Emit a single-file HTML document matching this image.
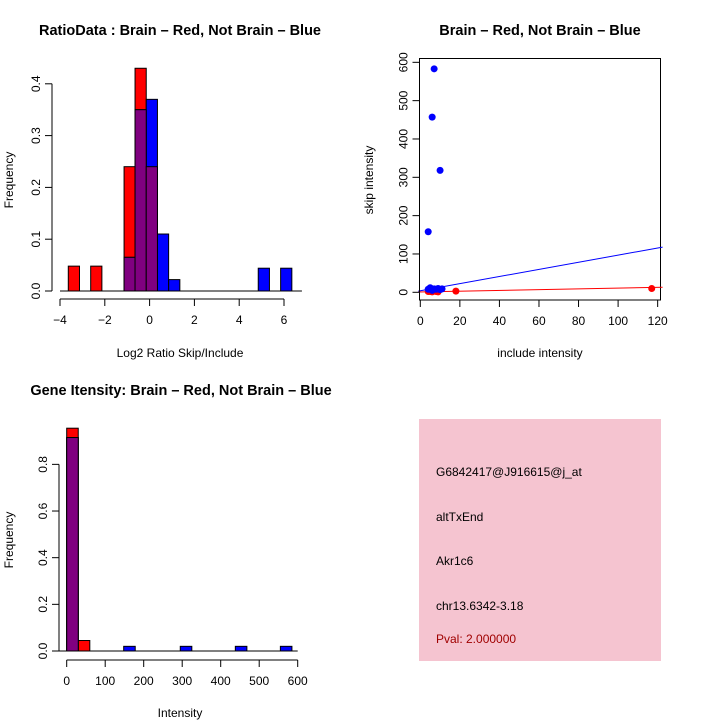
<!DOCTYPE html>
<html><head><meta charset="utf-8"><style>
body{margin:0;background:#fff}
svg{display:block;font-family:"Liberation Sans",sans-serif}
</style></head><body>
<svg id="s" width="720" height="720" xmlns="http://www.w3.org/2000/svg">
<text x="180" y="35" font-size="14.5" font-weight="bold" text-anchor="middle">RatioData : Brain – Red, Not Brain – Blue</text>
<text x="540" y="35" font-size="14.5" font-weight="bold" text-anchor="middle">Brain – Red, Not Brain – Blue</text>
<text x="181" y="395" font-size="14.5" font-weight="bold" text-anchor="middle">Gene Itensity: Brain – Red, Not Brain – Blue</text>
<text x="180" y="357" font-size="12" text-anchor="middle">Log2 Ratio Skip/Include</text>
<text x="13" y="180" font-size="12" text-anchor="middle" transform="rotate(-90 13 180)">Frequency</text>
<text x="540" y="357" font-size="12" text-anchor="middle">include intensity</text>
<text x="373" y="180" font-size="12" text-anchor="middle" transform="rotate(-90 373 180)">skip intensity</text>
<text x="180" y="717" font-size="12" text-anchor="middle">Intensity</text>
<text x="13" y="540" font-size="12" text-anchor="middle" transform="rotate(-90 13 540)">Frequency</text>
<rect x="419" y="419" width="242" height="242" fill="#f5c4d0"/>
<text x="436" y="476" font-size="12">G6842417@J916615@j_at</text>
<text x="436" y="521" font-size="12">altTxEnd</text>
<text x="436" y="565" font-size="12">Akr1c6</text>
<text x="436" y="610" font-size="12">chr13.6342-3.18</text>
<text x="436" y="643" font-size="12" fill="#a00000">Pval: 2.000000</text>
</svg>
<script>
// Ratio histogram data
const ratioRedStarts=[-3.63,-2.63,-1.14,-0.65,-0.15];
const ratioRedVals=[0.048,0.048,0.24,0.43,0.24];
const ratioBlueStarts=[-1.14,-0.65,-0.15,0.35,0.85,4.85,5.85];
const ratioBlueVals=[0.065,0.35,0.37,0.11,0.022,0.044,0.044];
const ratioXTicks=[-4,-2,0,2,4,6];
const ratioYTicks=[0,0.1,0.2,0.3,0.4];
// Scatter data
const blueX=[7,6,10,4,4,5,6,7,8,9,10,11,5,6];
const blueY=[583,457,318,158,8,10,7,9,8,10,7,9,12,5];
const redX=[18,117,5,6,7,8,9,4];
const redY=[3,10,2,1,3,2,1,2];
const blueLine=[0.93,4];
const redLine=[0.1,1];
const scXTicks=[0,20,40,60,80,100,120];
const scYTicks=[0,100,200,300,400,500,600];
// Intensity histogram data
const intRedStarts=[0,30];
const intRedVals=[0.955,0.045];
const intBlueStarts=[0,148,295,438,555];
const intBlueVals=[0.915,0.02,0.02,0.02,0.02];
const intXTicks=[0,100,200,300,400,500,600];
const intYTicks=[0,0.2,0.4,0.6,0.8];

const S=document.getElementById('s');const NS='http://www.w3.org/2000/svg';
function mk(t,a){const e=document.createElementNS(NS,t);for(const k in a)e.setAttribute(k,a[k]);S.appendChild(e);return e;}

function hist(xs,ys,rs,rv,bs,bv,w,xt,yt,pre,xmin,xmax,yAxX,xAxY){
  const line=mk('line',{x1:xs(xmin),x2:xs(xmax),y1:ys(0),y2:ys(0),stroke:'#000'});
  
  
  function bar(s,v,c,n){const r=mk('rect',{x:xs(s),y:ys(v),width:xs(s+w)-xs(s),height:ys(0)-ys(v),fill:c,stroke:'#000','stroke-width':1});
    
    }
  rs.forEach((s,i)=>bar(s,rv[i],'#ff0000',pre+'-red-bar'));
  bs.forEach((s,i)=>bar(s,bv[i],'#0000ff',pre+'-blue-bar'));
  rs.forEach((s,i)=>{const j=bs.indexOf(s);if(j>=0)bar(s,Math.min(rv[i],bv[j]),'#800080',pre+'-overlap-bar');});
  axes(xs,ys,xt,yt,pre,yAxX,xAxY,true);
}
function fmtX(v){return String(v).replace('-','\u2212');}
function axes(xs,ys,xt,yt,pre,yAxX,xAxY,dec){
  let a=mk('line',{x1:xs(xt[0]),x2:xs(xt[xt.length-1]),y1:xAxY,y2:xAxY,stroke:'#000'});
  
  
  xt.forEach(v=>{mk('line',{x1:xs(v),x2:xs(v),y1:xAxY,y2:xAxY+7,stroke:'#000'});
    const t=mk('text',{x:xs(v),y:xAxY+25,'font-size':12,'text-anchor':'middle'});t.textContent=fmtX(v);
    
    });
  a=mk('line',{x1:yAxX,x2:yAxX,y1:ys(yt[0]),y2:ys(yt[yt.length-1]),stroke:'#000'});
  
  
  yt.forEach(v=>{mk('line',{x1:yAxX,x2:yAxX-7,y1:ys(v),y2:ys(v),stroke:'#000'});
    const tx=yAxX-12;const t=mk('text',{x:tx,y:ys(v),'font-size':12,'text-anchor':'middle',transform:`rotate(-90 ${tx} ${ys(v)})`});t.textContent=dec?v.toFixed(1):String(v);
    
    });
}
// panel 1
hist(v=>60+(v+4)*22.4,v=>291-v*518,ratioRedStarts,ratioRedVals,ratioBlueStarts,ratioBlueVals,0.5,ratioXTicks,ratioYTicks,'ratio',-4,6.8,52,299);
// panel 3
hist(v=>66.7+v*0.385,v=>651-v*233.3,intRedStarts,intRedVals,intBlueStarts,intBlueVals,30,intXTicks,intYTicks,'intensity',-30,600,59,660);
// panel 2 scatter
const sx=v=>420.3+v*1.978, sy=v=>292.3-v*0.3833;
const box=mk('rect',{x:419.5,y:58.5,width:241,height:241.5,fill:'none',stroke:'#000'});


function clipLine(p,c,n){const x0=-1,x1=122.5;const l=mk('line',{x1:sx(x0),y1:sy(p[0]*x0+p[1]),x2:sx(x1),y2:sy(p[0]*x1+p[1]),stroke:c});
  
  }
clipLine(blueLine,'#0000ff','blue-fit-line');
clipLine(redLine,'#ff0000','red-fit-line');
redX.forEach((x,i)=>{const c=mk('circle',{cx:sx(x),cy:sy(redY[i]),r:3.5,fill:'#ff0000'});
  
  });
blueX.forEach((x,i)=>{const c=mk('circle',{cx:sx(x),cy:sy(blueY[i]),r:3.5,fill:'#0000ff'});
  
  });
axes(sx,sy,scXTicks,scYTicks,'scatter',419.5,300,false);
</script>
</body></html>
